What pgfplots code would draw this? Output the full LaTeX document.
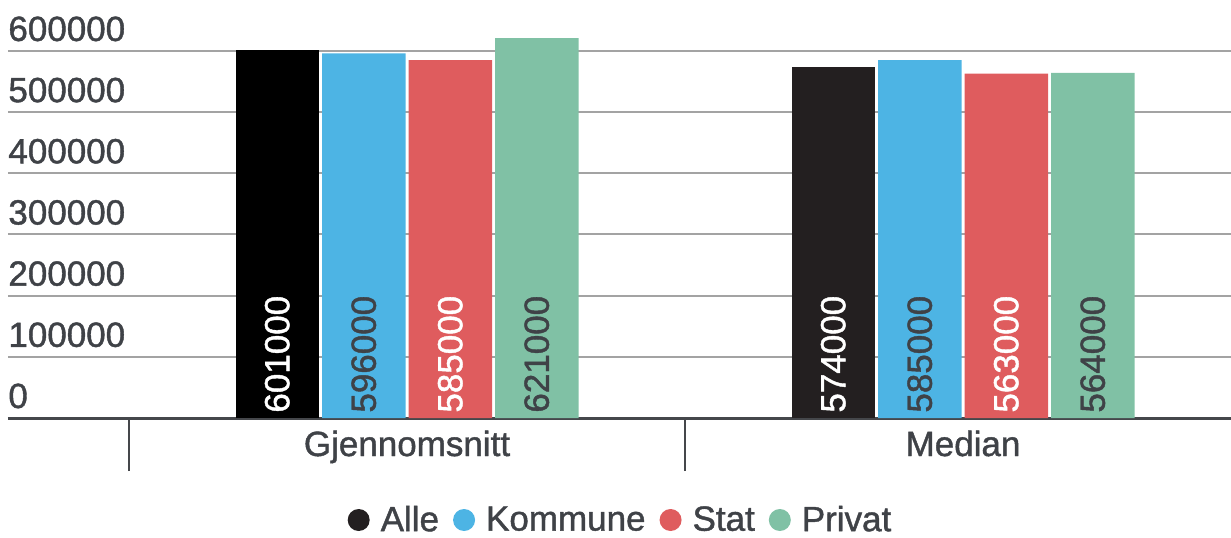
\documentclass[border=0pt]{standalone}
\usepackage{pgfplots}
\pgfplotsset{compat=1.18}
\usepackage{fontspec}
\setmainfont{Liberation Sans}[RawFeature={embolden=1.2}]
\definecolor{cAlle}{HTML}{231F20}
\definecolor{cKom}{HTML}{4DB4E4}
\definecolor{cStat}{HTML}{DF5C5E}
\definecolor{cPriv}{HTML}{80C1A5}
\definecolor{txt}{HTML}{3F4247}
\definecolor{gridc}{HTML}{A3A3A3}
\definecolor{axc}{HTML}{45474B}
\newcommand{\cf}{\fontsize{17.5}{20}\selectfont}
\begin{document}
\begin{tikzpicture}
\useasboundingbox (-4pt,-59.5pt) rectangle (611.5pt,209pt);
\begin{axis}[
  scale only axis,
  width=611.5pt, height=192.7pt,
  xmin=-0.71763, xmax=1.48201,
  ymin=0, ymax=630000,
  ybar,
  bar width=41.75pt,
  axis lines*=left,
  y axis line style={draw=none},
  x axis line style={axc, line width=1.5pt},
  ytick={0,100000,200000,300000,400000,500000,600000},
  scaled y ticks=false,
  ymajorgrids,
  grid style={gridc, line width=1pt},
  major tick length=0pt,
  ytick style={draw=none},
  /pgf/number format/assume math mode=true,
  y tick label style={/pgf/number format/fixed, /pgf/number format/1000 sep={}, anchor=base west, inner sep=0pt, yshift=5pt, text=txt, font=\cf},
  xtick={0,1},
  xticklabels={Gjennomsnitt, Median},
  x tick label style={anchor=base, inner sep=0pt, yshift=-19pt, text=txt, font=\cf},
  extra x ticks={-0.5,0.5},
  extra x tick labels={},
  extra x tick style={major tick length=26.5pt, tick align=outside, tick style={axc, line width=0.75pt}, grid=none},
  visualization depends on={y \as \rawy},
  every node near coord/.append style={shift={(axis direction cs:0,-\rawy)}, rotate=90, anchor=west, inner xsep=2.5pt, inner ysep=0pt, font=\cf},
  legend columns=4,
  legend image code/.code={\fill (5.5pt,0pt) circle (5.5pt);},
  legend style={draw=none, fill=none, at={(axis description cs:0.5,0)}, anchor=center, yshift=-51pt, font=\cf, text=txt,
    nodes={inner sep=0pt},
    /tikz/every odd column/.append style={column sep=5.5pt},
    /tikz/every even column/.append style={column sep=7pt}},
]
\addplot[fill=black, draw=none, bar shift=-64.875pt, forget plot, nodes near coords, point meta=explicit symbolic, every node near coord/.append style={text=white}] table[meta=l] {
x y l
0 601000 601000
};
\addplot[fill=cAlle, draw=none, bar shift=-64.875pt, nodes near coords, point meta=explicit symbolic, every node near coord/.append style={text=white}] table[meta=l] {
x y l
1 574000 574000
};
\addlegendentry{Alle}
\addplot[fill=cKom, draw=none, bar shift=-21.625pt, nodes near coords, point meta=explicit symbolic, every node near coord/.append style={text=txt}] table[meta=l] {
x y l
0 596000 596000
1 585000 585000
};
\addlegendentry{Kommune}
\addplot[fill=cStat, draw=none, bar shift=21.625pt, nodes near coords, point meta=explicit symbolic, every node near coord/.append style={text=white}] table[meta=l] {
x y l
0 585000 585000
1 563000 563000
};
\addlegendentry{Stat}
\addplot[fill=cPriv, draw=none, bar shift=64.875pt, nodes near coords, point meta=explicit symbolic, every node near coord/.append style={text=txt}] table[meta=l] {
x y l
0 621000 621000
1 564000 564000
};
\addlegendentry{Privat}
\end{axis}
\end{tikzpicture}
\end{document}
